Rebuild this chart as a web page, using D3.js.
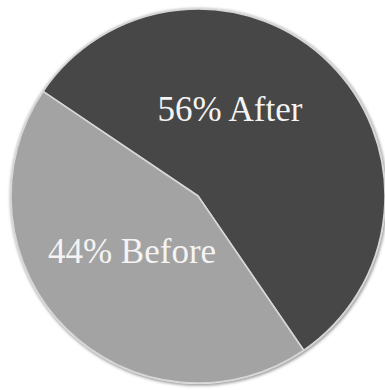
<!DOCTYPE html>
<html>
<head>
<meta charset="utf-8">
<script src="https://cdn.jsdelivr.net/npm/d3@7"></script>
<style>
  html, body { margin: 0; padding: 0; background: #ffffff; }
  svg { display: block; }
</style>
</head>
<body>
<svg id="chart" width="385" height="390"></svg>
<script>
// Share of responses, before vs after
const categories = ["After", "Before"];
const values = [56, 44];
const labels = ["56% After", "44% Before"];

const colors = ["#474747", "#a3a3a3"];

const W = 385, H = 390;
const cx = 198, cy = 196, R = 187;
// First slice begins up-left of twelve o'clock
const start = -56 * Math.PI / 180;

const svg = d3.select("#chart");

const defs = svg.append("defs");
const shadow = defs.append("filter").attr("id", "soft").attr("x", "-10%").attr("y", "-10%").attr("width", "120%").attr("height", "120%");
shadow.append("feGaussianBlur").attr("stdDeviation", 1.6);

const g = svg.append("g").attr("transform", `translate(${cx},${cy})`);

// faint shadow ring around the disc
g.append("circle")
  .attr("r", R + 1.5)
  .attr("cx", 0.8)
  .attr("cy", 1)
  .attr("fill", "#9a9a9a")
  .attr("filter", "url(#soft)");

g.append("circle")
  .attr("r", R + 1)
  .attr("fill", "#e4e4e4");

const pie = d3.pie()
  .sort(null)
  .value(d => d.value)
  .startAngle(start)
  .endAngle(start + 2 * Math.PI);

const arc = d3.arc().innerRadius(0).outerRadius(R);

const data = categories.map((c, i) => ({ category: c, value: values[i], label: labels[i], color: colors[i] }));

g.selectAll("path.slice")
  .data(pie(data))
  .join("path")
  .attr("class", "slice")
  .attr("d", arc)
  .attr("fill", d => d.data.color)
  .attr("stroke", "#d6d6d6")
  .attr("stroke-width", 1.6)
  .attr("stroke-linejoin", "round");

// label anchors relative to the centre
const labelPos = { After: [32, -75], Before: [-66, 67] };

g.selectAll("text.lbl")
  .data(pie(data))
  .join("text")
  .attr("class", "lbl")
  .attr("x", d => labelPos[d.data.category][0])
  .attr("y", d => labelPos[d.data.category][1])
  .attr("text-anchor", "middle")
  .attr("font-family", "'Liberation Serif', 'DejaVu Serif', serif")
  .attr("font-size", 35)
  .attr("fill", "#f4f4f4")
  .text(d => d.data.label);
</script>
</body>
</html>
